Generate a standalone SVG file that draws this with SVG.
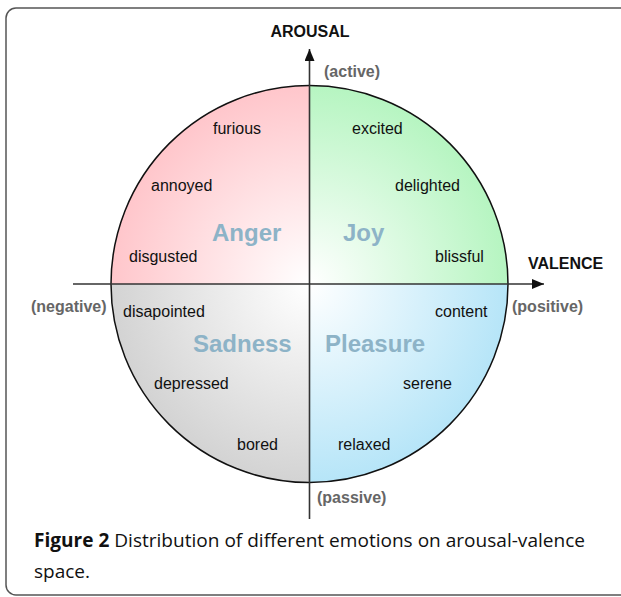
<svg xmlns="http://www.w3.org/2000/svg" width="621" height="597" viewBox="0 0 621 597">
<style>
.lbl{font-family:"Liberation Sans",Arial,sans-serif;font-size:16px;fill:#111}
.big{font-family:"Liberation Sans",Arial,sans-serif;font-size:24px;font-weight:bold;fill:#8db3c7}
.axis{font-family:"Liberation Sans",Arial,sans-serif;font-size:16px;font-weight:bold;fill:#111}
.pole{font-family:"Liberation Sans",Arial,sans-serif;font-size:16px;font-weight:bold;fill:#666}
.cap{font-family:"Open Sans","Liberation Sans",sans-serif;font-size:19px;fill:#111}
.ax{stroke:#333;stroke-width:1.6;fill:none}
</style>
<defs>
<radialGradient id="gA" gradientUnits="userSpaceOnUse" cx="309.5" cy="284" r="198.5"><stop offset="0" stop-color="#ffffff"/><stop offset="1" stop-color="#ffc6cb"/></radialGradient>
<radialGradient id="gJ" gradientUnits="userSpaceOnUse" cx="309.5" cy="284" r="198.5"><stop offset="0" stop-color="#ffffff"/><stop offset="1" stop-color="#b6f5c1"/></radialGradient>
<radialGradient id="gS" gradientUnits="userSpaceOnUse" cx="309.5" cy="284" r="198.5"><stop offset="0" stop-color="#ffffff"/><stop offset="1" stop-color="#d3d3d3"/></radialGradient>
<radialGradient id="gP" gradientUnits="userSpaceOnUse" cx="309.5" cy="284" r="198.5"><stop offset="0" stop-color="#ffffff"/><stop offset="1" stop-color="#b6e5f8"/></radialGradient>
<marker id="arr" viewBox="0 0 12 10" refX="12" refY="5" markerWidth="12" markerHeight="10" markerUnits="userSpaceOnUse" orient="auto"><path d="M0,0 L12,5 L0,10 Z" fill="#111"/></marker>
</defs>
<rect x="6" y="8" width="640" height="587" rx="10" fill="#fff" stroke="#555" stroke-width="1.5"/>
<g id="quadrants">
<path id="anger-area" d="M309.5,284 L111,284 A198.5,198.5 0 0 1 309.5,85.5 Z" fill="url(#gA)"/>
<path id="joy-area" d="M309.5,284 L309.5,85.5 A198.5,198.5 0 0 1 508,284 Z" fill="url(#gJ)"/>
<path id="pleasure-area" d="M309.5,284 L508,284 A198.5,198.5 0 0 1 309.5,482.5 Z" fill="url(#gP)"/>
<path id="sadness-area" d="M309.5,284 L309.5,482.5 A198.5,198.5 0 0 1 111,284 Z" fill="url(#gS)"/>
<circle cx="309.5" cy="284" r="198.5" fill="none" stroke="#111" stroke-width="1.5"/>
</g>
<g id="connectors">
<line class="ax" x1="309.5" y1="519" x2="309.5" y2="49" marker-end="url(#arr)"/>
<line class="ax" x1="73" y1="284" x2="544" y2="284" marker-end="url(#arr)"/>
</g>
<g id="axis-labels">
<text class="axis" x="310" y="37" text-anchor="middle">AROUSAL</text>
<text class="pole" x="324" y="77">(active)</text>
<text class="axis" x="528" y="269">VALENCE</text>
<text class="pole" x="31" y="312">(negative)</text>
<text class="pole" x="512" y="312">(positive)</text>
<text class="pole" x="317" y="503">(passive)</text>
</g>
<g id="anger">
<text class="big" x="212" y="241">Anger</text>
<text class="lbl" x="213" y="134">furious</text>
<text class="lbl" x="151" y="191">annoyed</text>
<text class="lbl" x="129" y="262">disgusted</text>
</g>
<g id="joy">
<text class="big" x="343" y="241">Joy</text>
<text class="lbl" x="352" y="134">excited</text>
<text class="lbl" x="395" y="191">delighted</text>
<text class="lbl" x="435" y="262">blissful</text>
</g>
<g id="sadness">
<text class="big" x="193" y="352">Sadness</text>
<text class="lbl" x="123" y="317">disapointed</text>
<text class="lbl" x="154" y="389">depressed</text>
<text class="lbl" x="237" y="450">bored</text>
</g>
<g id="pleasure">
<text class="big" x="325" y="352">Pleasure</text>
<text class="lbl" x="435" y="317">content</text>
<text class="lbl" x="403" y="389">serene</text>
<text class="lbl" x="338" y="450">relaxed</text>
</g>
<g id="caption">
<text class="cap" x="34" y="547" textLength="551" lengthAdjust="spacingAndGlyphs"><tspan font-weight="bold">Figure 2</tspan> Distribution of different emotions on arousal-valence</text>
<text class="cap" x="34" y="578" textLength="56" lengthAdjust="spacingAndGlyphs">space.</text>
</g>
</svg>
